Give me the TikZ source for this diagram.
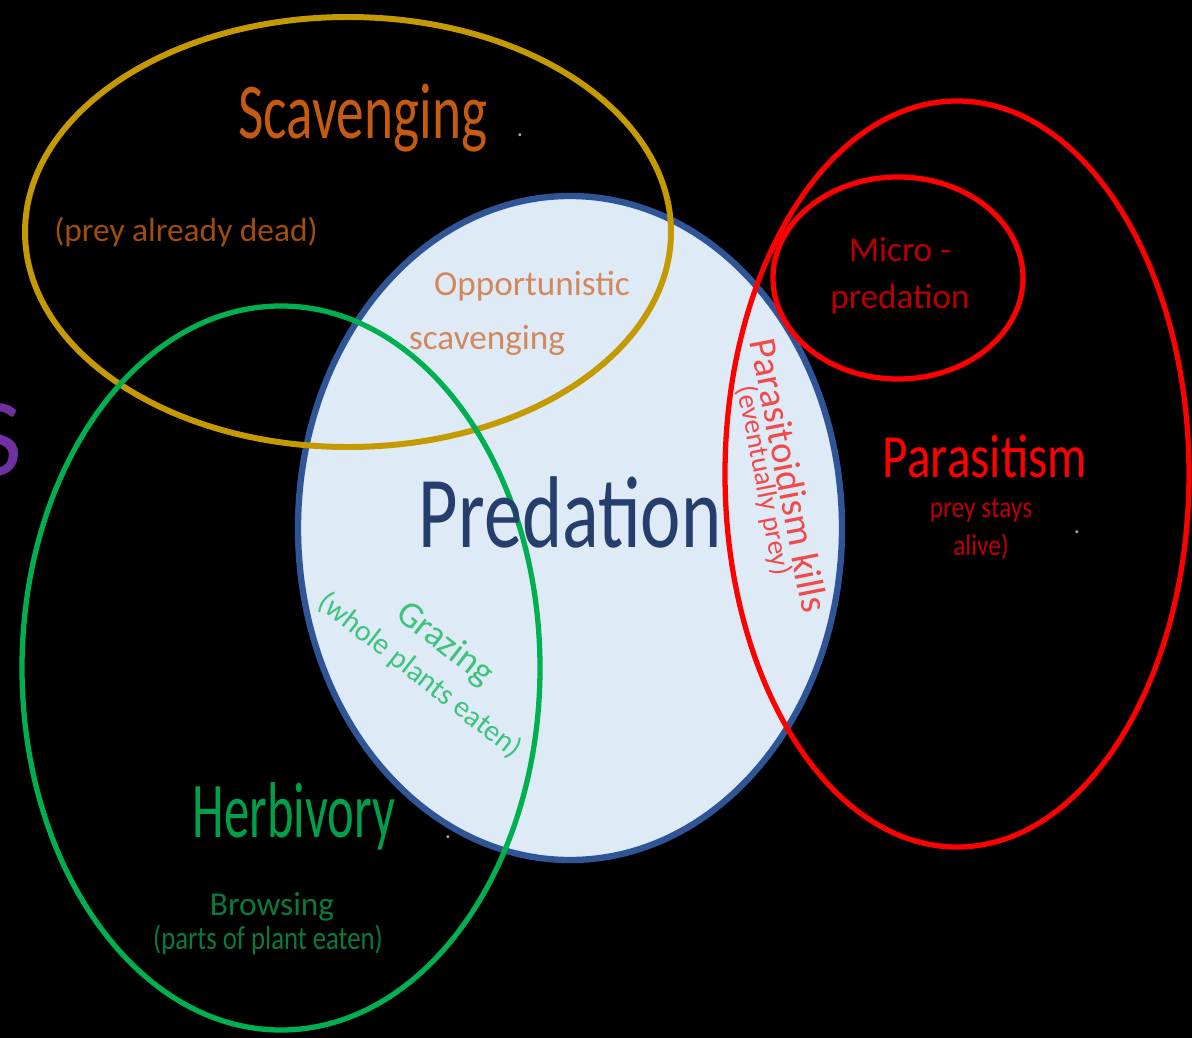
\documentclass[tikz,border=0pt]{standalone}
\definecolor{scavgold}{HTML}{C49A00}
\definecolor{scavorange}{HTML}{C55A11}
\definecolor{deadbrown}{HTML}{A04E0C}
\definecolor{opporange}{HTML}{D4875A}
\definecolor{predfill}{HTML}{DEEAF6}
\definecolor{predblue}{HTML}{2F5597}
\definecolor{predtext}{HTML}{253E6C}
\definecolor{herbgreen}{HTML}{00B050}
\definecolor{herbtext}{HTML}{00A04A}
\definecolor{browsegreen}{HTML}{0A7A3A}
\definecolor{grazegreen}{HTML}{3CC37C}
\definecolor{parared}{HTML}{FF0000}
\definecolor{microred}{HTML}{B80000}
\definecolor{alivered}{HTML}{C00000}
\definecolor{toidred}{HTML}{F24A4A}
\definecolor{sviolet}{HTML}{7030A0}
\definecolor{dotgray}{HTML}{A6A6A6}
\usepackage{fontspec}
\setmainfont{Carlito}
\usepackage{tikz}
\usetikzlibrary{positioning}

\begin{document}
\begin{tikzpicture}[scale=1.0,
  lbl/.style={inner sep=0pt, align=center}]
  % background
  \useasboundingbox (0,0) rectangle (23.84,-20.76);
  \fill[black] (0,0) rectangle (23.84,-20.76);
  % predation
  \filldraw[fill=predfill,draw=predblue,line width=3.6pt] (11.40,-10.56) ellipse (5.44 and 6.64);
  % scavenging
  \draw[scavgold,line width=3.4pt] (6.96,-4.64) ellipse (6.46 and 4.30);
  % herbivory
  \draw[herbgreen,line width=3pt] (5.62,-13.36) ellipse (5.18 and 7.24);
  % parasitism, micro-predation
  \draw[parared,line width=3pt] (19.14,-9.48) ellipse (4.64 and 7.46);
  \draw[parared,line width=3pt] (17.96,-5.56) ellipse (2.50 and 2.02);
  % labels
  \node[lbl,sviolet,anchor=east,font=\fontsize{63}{63}\selectfont] (cutS) at (0.46,-8.80) {S};
  \node[lbl,scavorange,xscale=0.70,font=\fontsize{45}{45}\selectfont] (scav) at (7.26,-2.36) {Scavenging};
  \node[lbl,deadbrown,font=\fontsize{19}{19}\selectfont] (dead) at (3.72,-4.64) {(prey already dead)};
  \node[lbl,opporange,font=\fontsize{20}{20}\selectfont] (opp1) at (10.64,-5.72) {Opportunistic};
  \node[lbl,opporange,font=\fontsize{20}{20}\selectfont] (opp2) at (9.74,-6.80) {scavenging};
  \node[lbl,predtext,xscale=0.75,font=\fontsize{58}{58}\selectfont] (pred) at (11.40,-10.24) {Predation};
  \node[lbl,microred,font=\fontsize{20}{27}\selectfont] (micro) at (18.00,-5.52) {Micro -\\predation};
  \node[lbl,parared,xscale=0.80,font=\fontsize{35}{35}\selectfont] (para) at (19.70,-9.12) {Parasitism};
  \node[lbl,alivered,xscale=0.85,font=\fontsize{17}{21.5}\selectfont] (alive) at (19.62,-10.58) {prey stays\\alive)};
  \node[lbl,toidred,rotate=-79] (toid) at (15.54,-9.56)
    {\fontsize{22}{24}\selectfont Parasitoidism kills\\\fontsize{16}{24}\selectfont (eventually prey)};
  \node[lbl,herbtext,xscale=0.64,font=\fontsize{45}{45}\selectfont] (herb) at (5.88,-16.32) {Herbivory};
  \node[lbl,browsegreen,font=\fontsize{19}{19}\selectfont] (brow1) at (5.44,-18.14) {Browsing};
  \node[lbl,browsegreen,xscale=0.80,font=\fontsize{19}{19}\selectfont] (brow2) at (5.36,-18.80) {(parts of plant eaten)};
  \node[lbl,grazegreen,rotate=-38] (graz) at (8.66,-13.18)
    {\fontsize{21}{25}\selectfont Grazing\\[5pt]\fontsize{17}{25}\selectfont (whole plants eaten)};
  % stray dots
  \node[lbl,dotgray,font=\fontsize{14}{14}\selectfont] (dot1) at (10.40,-2.70) {.};
  \node[lbl,dotgray,font=\fontsize{14}{14}\selectfont] (dot2) at (21.54,-10.64) {.};
  \node[lbl,dotgray,font=\fontsize{14}{14}\selectfont] (dot3) at (8.96,-16.74) {.};
\end{tikzpicture}
\end{document}
